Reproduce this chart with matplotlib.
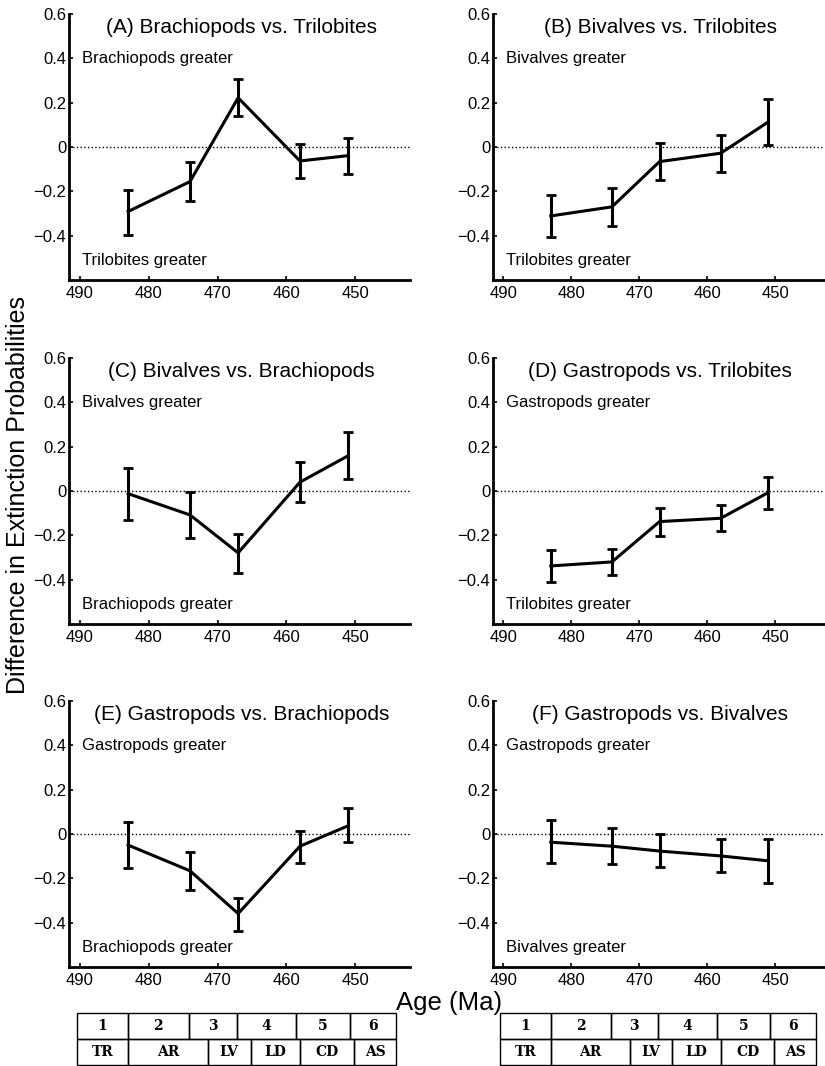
import matplotlib
matplotlib.use('Agg')
import matplotlib.pyplot as plt
from matplotlib.patches import Rectangle

plt.rcParams['font.family'] = ['Liberation Sans', 'DejaVu Sans']

# ages of the five intervals (Ma)
ages = [483, 474, 467, 458, 451]

titles = ['(A) Brachiopods vs. Trilobites', '(B) Bivalves vs. Trilobites',
          '(C) Bivalves vs. Brachiopods', '(D) Gastropods vs. Trilobites',
          '(E) Gastropods vs. Brachiopods', '(F) Gastropods vs. Bivalves']
upper_notes = ['Brachiopods greater', 'Bivalves greater', 'Bivalves greater',
               'Gastropods greater', 'Gastropods greater', 'Gastropods greater']
lower_notes = ['Trilobites greater', 'Trilobites greater', 'Brachiopods greater',
               'Trilobites greater', 'Brachiopods greater', 'Bivalves greater']

# difference in extinction probability and the ends of its error bar
diff_a = [-0.291, -0.156, 0.222, -0.063, -0.039]
low_a = [-0.396, -0.243, 0.139, -0.138, -0.121]
high_a = [-0.193, -0.069, 0.306, 0.013, 0.042]

diff_b = [-0.311, -0.270, -0.066, -0.028, 0.113]
low_b = [-0.407, -0.356, -0.149, -0.111, 0.008]
high_b = [-0.216, -0.183, 0.020, 0.053, 0.218]

diff_c = [-0.012, -0.108, -0.279, 0.040, 0.159]
low_c = [-0.130, -0.212, -0.370, -0.049, 0.052]
high_c = [0.104, -0.004, -0.193, 0.129, 0.265]

diff_d = [-0.338, -0.320, -0.138, -0.123, -0.007]
low_d = [-0.412, -0.379, -0.201, -0.182, -0.079]
high_d = [-0.268, -0.261, -0.076, -0.064, 0.062]

diff_e = [-0.050, -0.166, -0.359, -0.055, 0.037]
low_e = [-0.154, -0.252, -0.436, -0.129, -0.037]
high_e = [0.052, -0.081, -0.287, 0.015, 0.116]

diff_f = [-0.037, -0.055, -0.077, -0.099, -0.121]
low_f = [-0.133, -0.136, -0.147, -0.173, -0.219]
high_f = [0.064, 0.028, -0.001, -0.022, -0.022]

diffs = [diff_a, diff_b, diff_c, diff_d, diff_e, diff_f]
lows = [low_a, low_b, low_c, low_d, low_e, low_f]
highs = [high_a, high_b, high_c, high_d, high_e, high_f]

yticks = [-0.4, -0.2, 0, 0.2, 0.4, 0.6]
ytick_labels = ['\u22120.4', '\u22120.2', '0', '0.2', '0.4', '0.6']
xticks = [490, 480, 470, 460, 450]

# time-scale boxes below the panels (boundaries in Ma)
bin_edges = [490.5, 483.0, 474.2, 467.2, 458.6, 450.7, 444.0]
bin_labels = ['1', '2', '3', '4', '5', '6']
stage_edges = [490.5, 483.0, 471.4, 465.2, 458.0, 450.1, 444.0]
stage_labels = ['TR', 'AR', 'LV', 'LD', 'CD', 'AS']

W, H = 825, 1066
fig = plt.figure(figsize=(W / 100, H / 100), dpi=100)

col_x = [69, 493]
col_w = [341, 331]
col_xlim = [(491.6, 442.0), (491.5, 442.8)]
row_top = [14, 358, 701]
ax_h = 266

for i in range(6):
    r, c = divmod(i, 2)
    ax = fig.add_axes([col_x[c] / W, 1 - (row_top[r] + ax_h) / H,
                       col_w[c] / W, ax_h / H])
    ax.set_xlim(*col_xlim[c])
    ax.set_ylim(-0.6, 0.6)
    ax.axhline(0, color='k', ls=':', lw=1)
    yerr = [[d - lo for d, lo in zip(diffs[i], lows[i])],
            [hi - d for d, hi in zip(diffs[i], highs[i])]]
    ax.errorbar(ages, diffs[i], yerr=yerr, color='k', lw=2.2, elinewidth=2.2,
                capsize=3.8, capthick=2.0)
    for s in ['top', 'right']:
        ax.spines[s].set_visible(False)
    for s in ['left', 'bottom']:
        ax.spines[s].set_linewidth(2)
    ax.set_yticks(yticks)
    ax.set_yticklabels(ytick_labels)
    ax.set_xticks(xticks)
    ax.tick_params(direction='in', length=3, width=1.2, labelsize=12, pad=2)
    ax.tick_params(axis='x', pad=4)
    ax.text(0.505, 0.95, titles[i], transform=ax.transAxes, ha='center',
            va='center', fontsize=15)
    ax.text(0.038, 0.4, upper_notes[i], transform=ax.get_yaxis_transform(),
            ha='left', va='center', fontsize=12)
    ax.text(0.038, -0.51, lower_notes[i], transform=ax.get_yaxis_transform(),
            ha='left', va='center', fontsize=12)

    if r == 2:
        bx = fig.add_axes([col_x[c] / W, 1 / H, col_w[c] / W, 52 / H])
        bx.set_xlim(*col_xlim[c])
        bx.set_ylim(0, 2)
        bx.axis('off')
        for edges, labels, y0 in [(bin_edges, bin_labels, 1),
                                  (stage_edges, stage_labels, 0)]:
            for k in range(len(labels)):
                bx.add_patch(Rectangle((edges[k], y0), edges[k + 1] - edges[k], 1,
                                       fill=False, lw=1, ec='k', clip_on=False))
                bx.text((edges[k] + edges[k + 1]) / 2, y0 + 0.5, labels[k],
                        ha='center', va='center', fontsize=10,
                        family='DejaVu Serif', weight='bold')

fig.text(18 / W, 1 - 495 / H, 'Difference in Extinction Probabilities',
         rotation=90, ha='center', va='center', fontsize=18)
fig.text(449.5 / W, 1 - 1003 / H, 'Age (Ma)', ha='center', va='center',
         fontsize=18.5)

fig.savefig('out.png', dpi=100)
